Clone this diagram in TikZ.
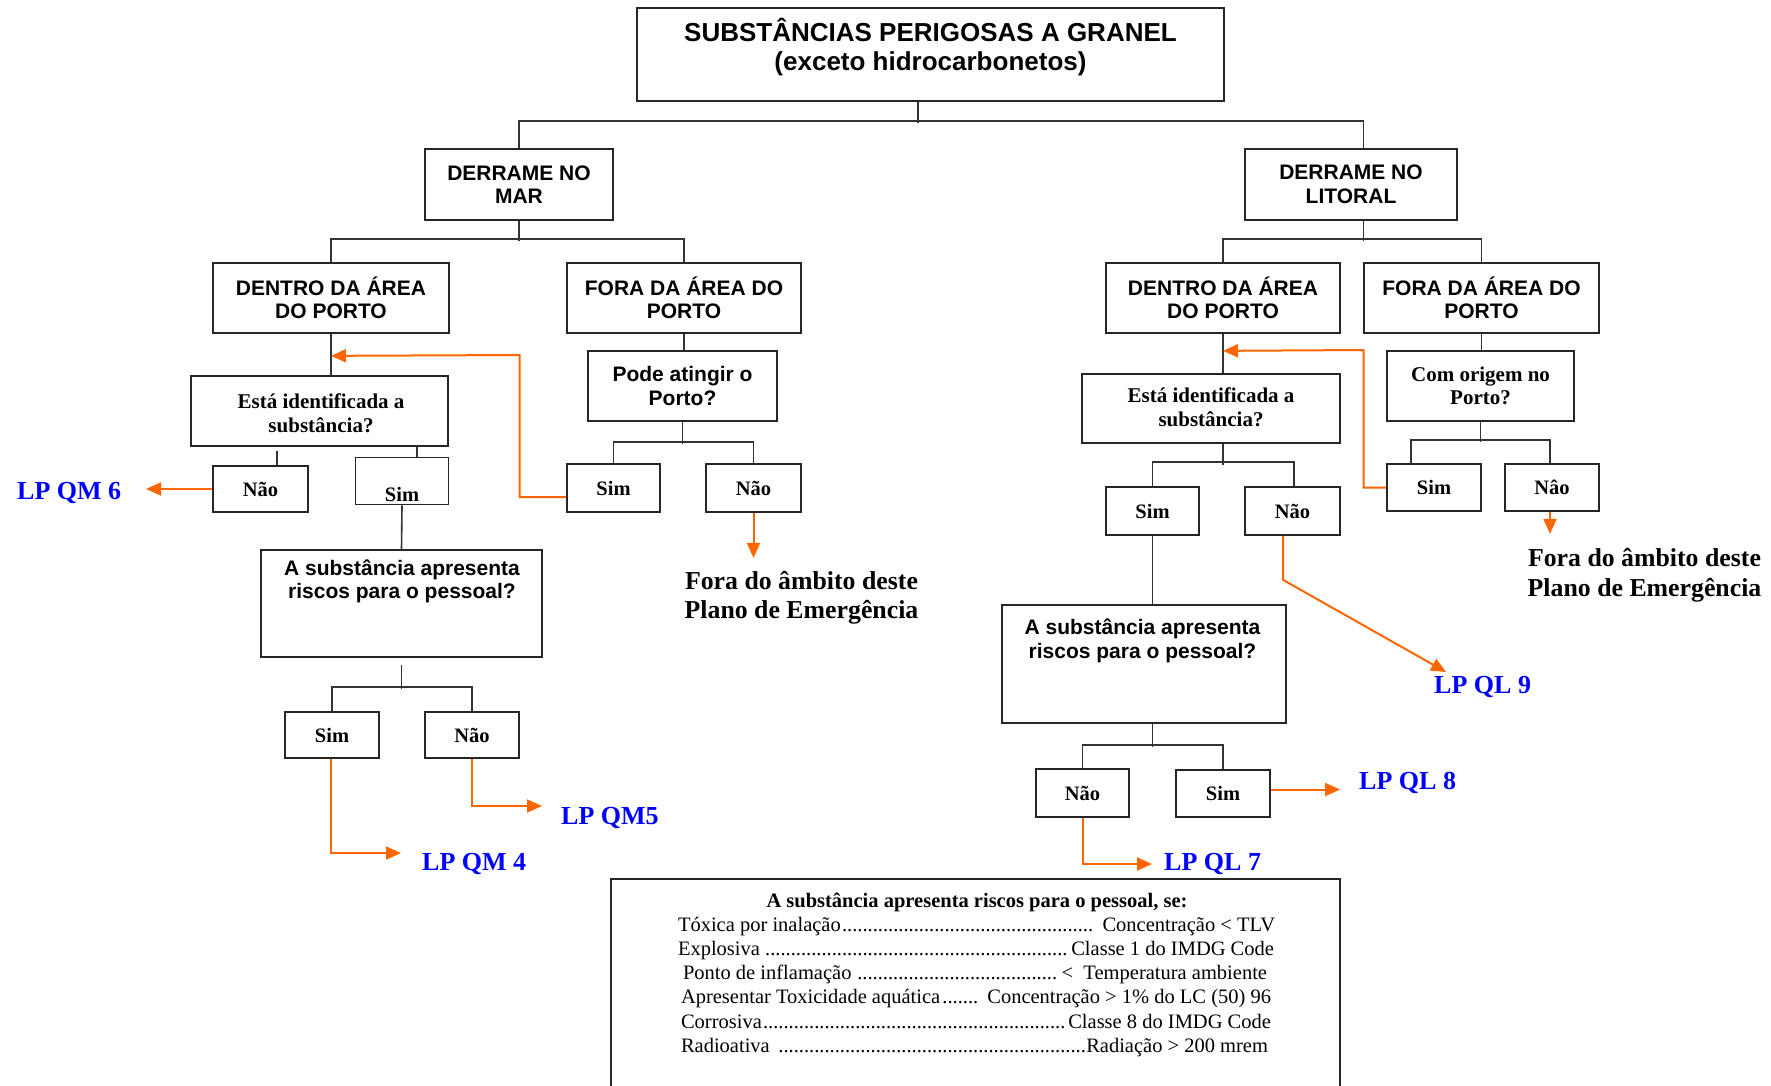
\documentclass[tikz,border=0pt]{standalone}
\usepackage{fontspec}
\setmainfont{Liberation Serif}
\newfontfamily\sansfam{Liberation Sans}
\usetikzlibrary{arrows.meta,calc}
\definecolor{flowc}{RGB}{255,102,0}
\definecolor{lpblue}{RGB}{0,0,255}
% dot leaders with tightly packed periods
\newcommand\dotlead{\leaders\hbox to 0.25em{\hss.\hss}\hfill}

\begin{document}
\begin{tikzpicture}[x=1pt,y=-1pt,
  frame/.style={draw=black!85, line width=1.7pt, inner sep=0pt, align=center},
  sz/.style 2 args={minimum width=#1pt, minimum height=#2pt},
  hdr/.style={font=\sansfam\bfseries\fontsize{21}{23.5}\selectfont, align=center},
  ques/.style={font=\bfseries\fontsize{21}{23.5}\selectfont, align=center},
  yn/.style={font=\bfseries\fontsize{20.5}{24}\selectfont},
  link/.style={draw=black!80, line width=1.6pt},
  flow/.style={draw=flowc, line width=2pt, -{Triangle[length=15pt,width=13pt]}},
  lp/.style={font=\bfseries\fontsize{26}{30}\selectfont, text=lpblue, inner sep=0pt, anchor=base west},
  outtxt/.style={font=\bfseries\fontsize{25.8}{29.5}\selectfont, align=center, inner sep=0pt},
  leg/.style={font=\fontsize{20.5}{24}\selectfont, inner sep=0pt, anchor=base},
]
\useasboundingbox[fill=white] (0,0) rectangle (1771,1085);

% ---------- top ----------
\node[frame, sz={587}{93}] (title) at (930.5,54.5) {};
\node[font=\sansfam\bfseries\fontsize{26}{29}\selectfont, align=center, inner sep=0pt]
  (titletxt) at (930.5,47.5) {SUBSTÂNCIAS PERIGOSAS A GRANEL\\(exceto hidrocarbonetos)};

\node[frame, hdr, sz={188}{71}] (MAR) at (519,184.5) {DERRAME NO\\MAR};
\node[frame, hdr, sz={212}{71}] (LIT) at (1351,184.5) {DERRAME NO\\LITORAL};

\draw[link] ($(title.south)+(-12.5,0)$) -- ++(0,21);
\draw[link] (MAR.north) -- ++(0,-27) -| ($(LIT.north)+(12.5,0)$);

% ---------- sea branch ----------
\node[frame, hdr, sz={236}{70}] (LD) at (331,298) {DENTRO DA ÁREA\\DO PORTO};
\node[frame, hdr, sz={234}{70}] (LF) at (684,298) {FORA DA ÁREA DO\\PORTO};
\draw[link] (MAR.south) -- ++(0,20);
\draw[link] (LD.north) -- ++(0,-23) -| (LF.north);

\node[frame, ques, sz={257}{70}] (LI) at (319.5,411) {};
\node[ques, inner sep=0pt] (LItxt) at (321,413) {Está identificada a\\substância?};
\draw[link] (LD.south) -- (LD.south |- LI.north);

\node[frame, hdr, sz={189}{70}] (LP) at (682.5,386) {Pode atingir o\\Porto?};
\draw[link] (LF.south) -- (LF.south |- LP.north);

\node[frame, yn, sz={95}{46}] (LN1) at (260.5,489) {Não};
\node[frame, sz={93}{47}] (LS1) at (402,481) {};
\node[yn, inner sep=0pt] (LS1txt) at (402,494) {Sim};
\draw[link] ($(LN1.north)+(16.5,0)$) -- ++(0,-14);
\draw[link] ($(LS1.north)+(15,0)$) -- ++(0,-11.5);

\node[frame, yn, sz={93}{48}] (LS2) at (613.5,488) {Sim};
\node[frame, yn, sz={95}{48}] (LN2) at (753.5,488) {Não};
\draw[link] (LP.south) -- ++(0,22);
\draw[link] (LS2.north) -- ++(0,-21) -| (LN2.north);

\node[frame, sz={281}{107}] (LR) at (401.5,603.5) {};
\node[hdr, inner sep=0pt] (LRtxt) at (402,581.5) {A substância apresenta\\riscos para o pessoal?};
\draw[link] (LS1.south) -- (LR.north);

\node[frame, yn, sz={94}{46}] (LBS) at (332,735) {Sim};
\node[frame, yn, sz={94}{46}] (LBN) at (472,735) {Não};
\draw[link] ($(LR.south)+(0,7)$) -- ++(0,24);
\draw[link] (LBS.north) -- ++(0,-24) -| (LBN.north);

\node[outtxt] (foraL) at (801.5,597.5) {Fora do âmbito deste\\Plano de Emergência};
\node[lp] (qm6) at (17,499) {LP QM 6};
\node[lp] (qm4) at (422,870) {LP QM 4};
\node[lp] (qm5) at (561,824) {LP QM5};

\coordinate (t6) at (146,489);
\coordinate (t4) at (401,853);
\coordinate (t5) at (542,806);
\draw[flow] (LN1.west) -- (t6);
\draw[flow] ($(LS2.west)+(0,9)$) -- (519.5,497) -- (519.5,355) -- ($(LD.south)+(0,22)$);
\draw[flow] (LN2.south) -- ++(0,45);
\draw[flow] ($(LBS.south)+(-1,0)$) |- (t4);
\draw[flow] (LBN.south) |- (t5);

% ---------- coast branch ----------
\node[frame, hdr, sz={234}{70}] (RD) at (1223,298) {DENTRO DA ÁREA\\DO PORTO};
\node[frame, hdr, sz={235}{70}] (RF) at (1481.5,298) {FORA DA ÁREA DO\\PORTO};
\draw[link] ($(LIT.south)+(12.5,0)$) -- ++(0,20);
\draw[link] (RD.north) -- ++(0,-23) -| (RF.north);

\node[frame, sz={258}{69}] (RI) at (1211,408.5) {};
\node[ques, inner sep=0pt] (RItxt) at (1211,407) {Está identificada a\\substância?};
\draw[link] (RD.south) -- (RD.south |- RI.north);

\node[frame, ques, sz={187}{70}] (RC) at (1480.5,386) {Com origem no\\Porto?};
\draw[link] (RF.south) -- (RF.south |- RC.north);

\node[frame, yn, sz={94}{47}] (RS2) at (1434,487.5) {Sim};
\node[frame, yn, sz={94}{47}] (RN2) at (1552,487.5) {Nâo};
\draw[link] (RC.south) -- ++(0,20);
\draw[link] ($(RS2.north)+(-23,0)$) -- ++(0,-23) -| ($(RN2.north)+(-2,0)$);

\node[frame, yn, sz={93}{48}] (RS1) at (1152.5,511) {Sim};
\node[frame, yn, sz={95}{48}] (RN1) at (1292.5,511) {Não};
\draw[link] (RD.south |- RI.south) -- ++(0,21);
\draw[link] (RS1.north) -- ++(0,-24) -| ($(RN1.north)+(1.5,0)$);

\node[frame, sz={284}{118}] (RR) at (1144,664) {};
\node[hdr, inner sep=0pt] (RRtxt) at (1142.5,641) {A substância apresenta\\riscos para o pessoal?};
\draw[link] (RS1.south) -- (RS1.south |- RR.north);

\node[frame, yn, sz={93}{48}] (RBN) at (1082.5,793) {Não};
\node[frame, yn, sz={94.5}{47}] (RBS) at (1223,793.5) {Sim};
\draw[link] (RS1.south |- RR.south) -- ++(0,23);
\draw[link] (RBN.north) -- ++(0,-23) -| (RBS.north);

\node[outtxt] (foraR) at (1644.5,575) {Fora do âmbito deste\\Plano de Emergência};
\node[lp] (ql9) at (1434,693) {LP QL 9};
\node[lp] (ql8) at (1359,789) {LP QL 8};
\node[lp] (ql7) at (1164,870) {LP QL 7};

\coordinate (t9) at (1446,672);
\coordinate (t8) at (1340,789.5);
\coordinate (t7) at (1152,864);
\draw[flow] (RS2.west) -- (1363.5,487.5) -- (1363.5,350) -- ($(RD.south)+(0,17)$);
\draw[flow] ($(RN2.south)+(-2,0)$) -- ++(0,22);
\draw[flow] ($(RN1.south)+(-9.5,0)$) -- ++(0,44) -- (t9);
\draw[flow] ($(RBS.east)+(0,-4)$) -- (t8);
\draw[flow] (RBN.south) |- (t7);

% ---------- criteria box ----------
\node[frame, sz={729}{260}] (legend) at (975.5,1009) {};
\node[leg, font=\bfseries\fontsize{20.5}{24}\selectfont] (lg0) at (977,907)
  {A substância apresenta riscos para o pessoal, se:};
\node[leg] (lg1) at (976.5,931.2) {\makebox[597pt]{Tóxica por inalação\dotlead\ Concentração < TLV}};
\node[leg] (lg2) at (976,955.4) {\makebox[596pt]{Explosiva \dotlead Classe 1 do IMDG Code}};
\node[leg] (lg3) at (975,979.6) {\makebox[584pt]{Ponto de inflamação \dotlead<\ \ Temperatura ambiente}};
\node[leg] (lg4) at (976,1003.8) {\makebox[590pt]{Apresentar Toxicidade aquática\dotlead\ Concentração > 1\% do LC (50) 96}};
\node[leg] (lg5) at (976,1028) {\makebox[590pt]{Corrosiva\dotlead Classe 8 do IMDG Code}};
\node[leg] (lg6) at (974.5,1052.2) {\makebox[587pt]{Radioativa \dotlead Radiação > 200 mrem}};
\end{tikzpicture}
\end{document}
